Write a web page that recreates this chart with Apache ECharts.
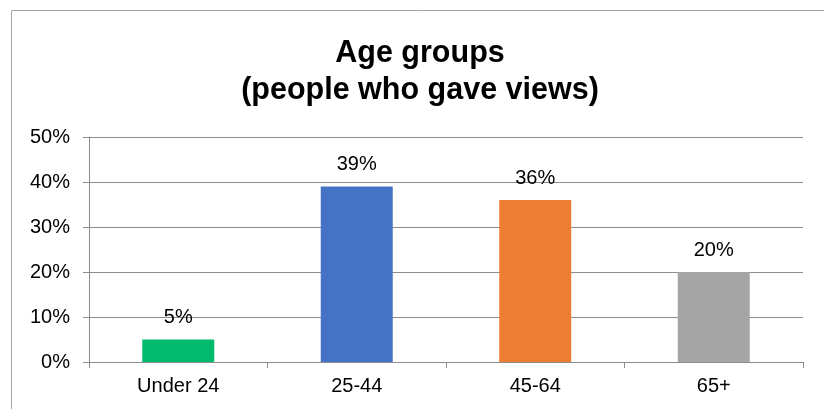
<!DOCTYPE html>
<html>
<head>
<meta charset="utf-8">
<style>
  html, body { margin: 0; padding: 0; background: #ffffff; }
  #chart { width: 824px; height: 409px; }
</style>
<script src="https://cdn.jsdelivr.net/npm/echarts@6/dist/echarts.min.js"></script>
</head>
<body>
<div id="chart"></div>
<script>
// Age groups of respondents, share of people who gave views (%)
const categories = ['Under 24', '25-44', '45-64', '65+'];
const shares = [5, 39, 36, 20];
const barColors = ['#00BA6E', '#4472C4', '#ED7D31', '#A5A5A5'];
const yTicks = [0, 10, 20, 30, 40, 50];

const font = '"Liberation Sans", Arial, sans-serif';
const gridColor = '#8C8C8C';

const chart = echarts.init(document.getElementById('chart'), null, { renderer: 'canvas' });

chart.setOption({
  animation: false,
  backgroundColor: '#ffffff',
  title: {
    text: 'Age groups\n(people who gave views)',
    left: 415,
    textAlign: 'center',
    top: 30,
    textStyle: {
      fontFamily: font,
      fontWeight: 'bold',
      fontSize: 30.5,
      lineHeight: 37,
      color: '#000000'
    }
  },
  graphic: [{
    type: 'rect',
    shape: { x: 11.5, y: 10.5, width: 900, height: 500 },
    style: { fill: 'none', stroke: '#A6A6A6', lineWidth: 1 },
    silent: true,
    z: 0
  }],
  grid: { left: 89, right: 21, top: 137, bottom: 47, containLabel: false },
  xAxis: {
    type: 'category',
    data: categories,
    axisLine: { show: true, lineStyle: { color: gridColor, width: 1 } },
    axisTick: { show: true, length: 6, alignWithLabel: false, lineStyle: { color: gridColor } },
    axisLabel: { fontFamily: font, fontSize: 20, color: '#000000', margin: 14 },
    splitLine: { show: false }
  },
  yAxis: {
    type: 'value',
    min: yTicks[0],
    max: yTicks[yTicks.length - 1],
    interval: 10,
    axisLine: { show: true, lineStyle: { color: gridColor, width: 1 } },
    axisTick: { show: true, length: 6, lineStyle: { color: gridColor } },
    axisLabel: {
      fontFamily: font, fontSize: 20, color: '#000000', margin: 19,
      formatter: v => v + '%'
    },
    splitLine: { show: true, lineStyle: { color: gridColor, width: 1 } }
  },
  series: [{
    type: 'bar',
    data: shares.map((v, i) => ({ value: v, itemStyle: { color: barColors[i] } })),
    barWidth: 72,
    label: {
      show: true,
      position: 'top',
      distance: 12,
      fontFamily: font,
      fontSize: 20,
      color: '#000000',
      formatter: p => p.value + '%'
    }
  }]
});
</script>
</body>
</html>
